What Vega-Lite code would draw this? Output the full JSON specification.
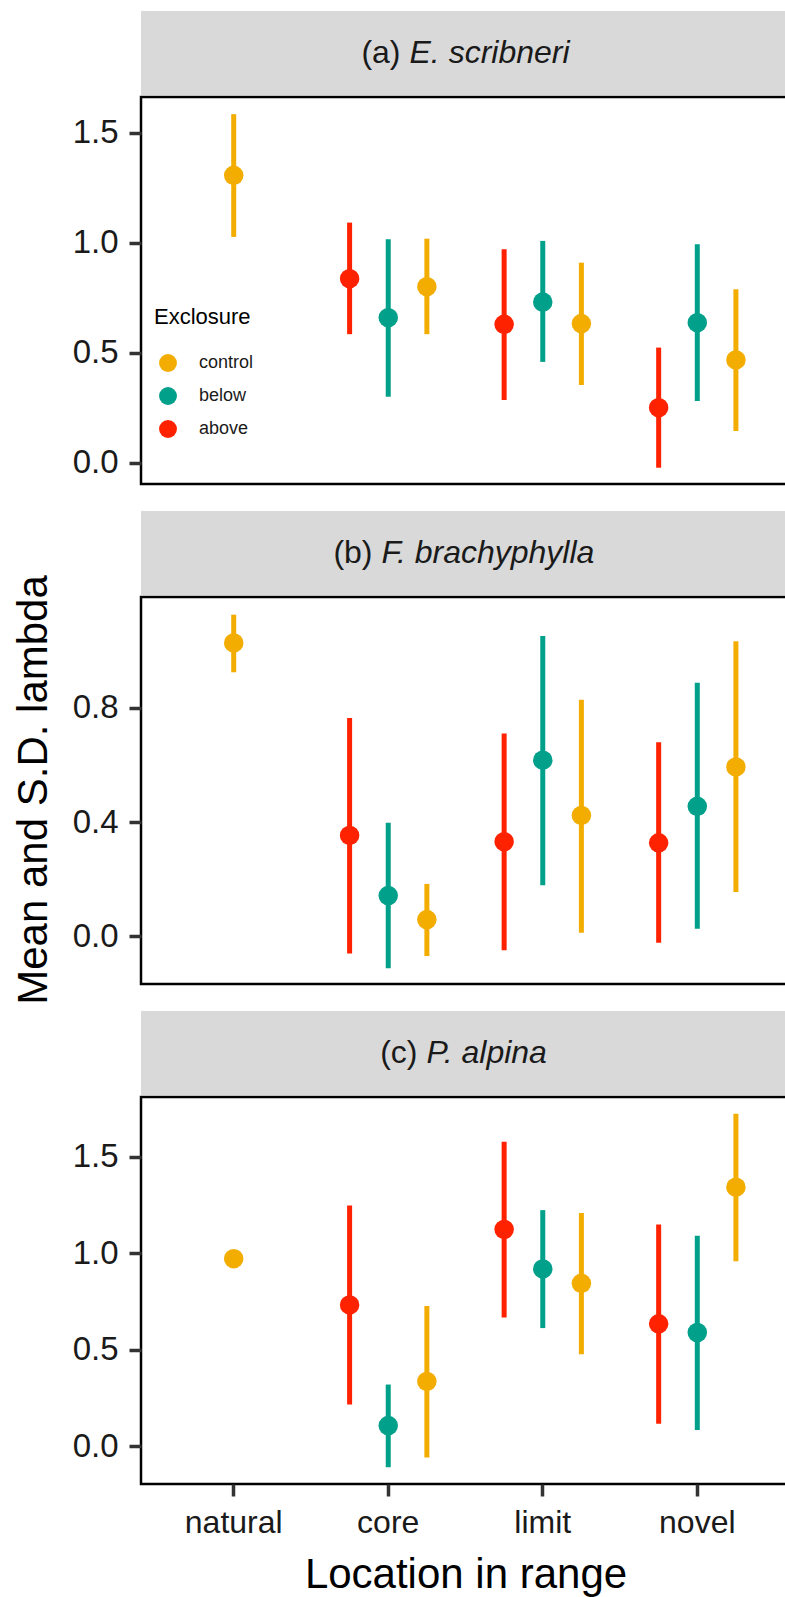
{
  "$schema": "https://vega.github.io/schema/vega-lite/v6.json",
  "padding": {"left": 13, "top": 11, "right": 0, "bottom": 0},
  "background": "white",
  "datasets": {
    "lambda": [
      {"species": "E. scribneri", "location": "natural", "exclosure": "control", "mean": 1.306, "lower": 1.026, "upper": 1.584},
      {"species": "E. scribneri", "location": "core", "exclosure": "above", "mean": 0.836, "lower": 0.584, "upper": 1.091},
      {"species": "E. scribneri", "location": "core", "exclosure": "below", "mean": 0.659, "lower": 0.300, "upper": 1.015},
      {"species": "E. scribneri", "location": "core", "exclosure": "control", "mean": 0.800, "lower": 0.584, "upper": 1.018},
      {"species": "E. scribneri", "location": "limit", "exclosure": "above", "mean": 0.629, "lower": 0.285, "upper": 0.970},
      {"species": "E. scribneri", "location": "limit", "exclosure": "below", "mean": 0.730, "lower": 0.458, "upper": 1.008},
      {"species": "E. scribneri", "location": "limit", "exclosure": "control", "mean": 0.632, "lower": 0.353, "upper": 0.909},
      {"species": "E. scribneri", "location": "novel", "exclosure": "above", "mean": 0.250, "lower": -0.023, "upper": 0.523},
      {"species": "E. scribneri", "location": "novel", "exclosure": "below", "mean": 0.636, "lower": 0.280, "upper": 0.993},
      {"species": "E. scribneri", "location": "novel", "exclosure": "control", "mean": 0.467, "lower": 0.144, "upper": 0.788},
      {"species": "F. brachyphylla", "location": "natural", "exclosure": "control", "mean": 1.028, "lower": 0.925, "upper": 1.127},
      {"species": "F. brachyphylla", "location": "core", "exclosure": "above", "mean": 0.353, "lower": -0.061, "upper": 0.765},
      {"species": "F. brachyphylla", "location": "core", "exclosure": "below", "mean": 0.142, "lower": -0.113, "upper": 0.397},
      {"species": "F. brachyphylla", "location": "core", "exclosure": "control", "mean": 0.058, "lower": -0.070, "upper": 0.183},
      {"species": "F. brachyphylla", "location": "limit", "exclosure": "above", "mean": 0.331, "lower": -0.050, "upper": 0.710},
      {"species": "F. brachyphylla", "location": "limit", "exclosure": "below", "mean": 0.617, "lower": 0.178, "upper": 1.052},
      {"species": "F. brachyphylla", "location": "limit", "exclosure": "control", "mean": 0.423, "lower": 0.012, "upper": 0.829},
      {"species": "F. brachyphylla", "location": "novel", "exclosure": "above", "mean": 0.327, "lower": -0.023, "upper": 0.680},
      {"species": "F. brachyphylla", "location": "novel", "exclosure": "below", "mean": 0.455, "lower": 0.026, "upper": 0.888},
      {"species": "F. brachyphylla", "location": "novel", "exclosure": "control", "mean": 0.593, "lower": 0.155, "upper": 1.034},
      {"species": "P. alpina", "location": "natural", "exclosure": "control", "mean": 0.972, "lower": 0.960, "upper": 0.985},
      {"species": "P. alpina", "location": "core", "exclosure": "above", "mean": 0.732, "lower": 0.215, "upper": 1.248},
      {"species": "P. alpina", "location": "core", "exclosure": "below", "mean": 0.106, "lower": -0.110, "upper": 0.319},
      {"species": "P. alpina", "location": "core", "exclosure": "control", "mean": 0.335, "lower": -0.059, "upper": 0.726},
      {"species": "P. alpina", "location": "limit", "exclosure": "above", "mean": 1.124, "lower": 0.667, "upper": 1.579},
      {"species": "P. alpina", "location": "limit", "exclosure": "below", "mean": 0.919, "lower": 0.612, "upper": 1.224},
      {"species": "P. alpina", "location": "limit", "exclosure": "control", "mean": 0.844, "lower": 0.476, "upper": 1.209},
      {"species": "P. alpina", "location": "novel", "exclosure": "above", "mean": 0.634, "lower": 0.116, "upper": 1.150},
      {"species": "P. alpina", "location": "novel", "exclosure": "below", "mean": 0.589, "lower": 0.083, "upper": 1.091},
      {"species": "P. alpina", "location": "novel", "exclosure": "control", "mean": 1.343, "lower": 0.959, "upper": 1.724}
    ]
  },
  "config": {
    "font": "Liberation Sans",
    "view": {"stroke": "#000000", "strokeWidth": 2.5},
    "axis": {"grid": false, "domain": false, "labelFont": "Liberation Sans", "labelFontSize": 32, "labelColor": "#1a1a1a", "tickColor": "#333333", "tickWidth": 3.5, "tickSize": 12, "labelPadding": 8, "titleFont": "Liberation Sans", "titleFontSize": 42, "titleFontWeight": "normal", "titleColor": "#000000"},
    "axisY": {"labelFontSize": 33, "labelPadding": 11},
    "legend": {"titleFont": "Liberation Sans", "labelFont": "Liberation Sans"}
  },
  "spacing": 15,
  "hconcat": [
    {
      "width": 36, "height": 1558,
      "view": {"stroke": null},
      "data": {"values": [{"ytitle": "Mean and S.D. lambda"}]},
      "mark": {"type": "text", "angle": 270, "align": "center", "baseline": "middle", "fontSize": 42, "color": "#000000"},
      "encoding": {"text": {"field": "ytitle"}}
    },
    {
      "spacing": 25,
      "vconcat": [
        {
          "spacing": 0,
          "vconcat": [
            {
              "width": 649, "height": 84,
              "view": {"fill": "#D9D9D9", "stroke": null},
              "data": {"values": [{"prefix": "(a)", "name": "E. scribneri"}]},
              "layer": [
                {"mark": {"type": "text", "align": "right", "baseline": "middle", "dx": -65, "fontSize": 32, "color": "#1a1a1a"}, "encoding": {"text": {"field": "prefix"}}},
                {"mark": {"type": "text", "align": "left", "baseline": "middle", "dx": -56, "fontSize": 32, "fontStyle": "italic", "color": "#1a1a1a"}, "encoding": {"text": {"field": "name"}}}
              ]
            },
            {
              "width": 649, "height": 387,
              "data": {"name": "lambda"},
              "transform": [{"filter": "datum.species == 'E. scribneri'"}],
              "encoding": {
                "x": {"field": "location", "type": "nominal", "scale": {"domain": ["natural", "core", "limit", "novel"], "paddingInner": 0, "paddingOuter": 0.1}, "axis": null},
                "color": {"field": "exclosure", "type": "nominal", "scale": {"domain": ["control", "below", "above"], "range": ["#F2AD00", "#00A08A", "#FF2200"]},
                  "legend": {"title": "Exclosure", "orient": "none", "legendX": 138, "legendY": 296, "titleFontSize": 22, "titleFontWeight": "normal", "titleColor": "#000", "labelFontSize": 18, "labelColor": "#1a1a1a", "symbolType": "circle", "symbolSize": 320, "symbolStrokeWidth": 0, "symbolOffset": 5, "rowPadding": 15, "labelOffset": 22, "titlePadding": 25}}
              },
              "layer": [
                {"transform": [{"filter": "datum.location != 'natural'"}], "mark": {"type": "rule", "strokeWidth": 5},
                 "encoding": {"xOffset": {"field": "exclosure", "type": "nominal", "scale": {"domain": ["above", "below", "control"], "paddingInner": 0, "paddingOuter": 0.5}},
                   "y": {"field": "lower", "type": "quantitative", "scale": {"domain": [-0.097, 1.662], "nice": false, "zero": false}, "axis": {"values": [0, 0.5, 1, 1.5], "format": ".1f", "title": null}}, "y2": {"field": "upper"}}},
                {"transform": [{"filter": "datum.location != 'natural'"}], "mark": {"type": "point", "filled": true, "size": 380, "opacity": 1},
                 "encoding": {"xOffset": {"field": "exclosure", "type": "nominal", "scale": {"domain": ["above", "below", "control"], "paddingInner": 0, "paddingOuter": 0.5}},
                   "y": {"field": "mean", "type": "quantitative", "scale": {"domain": [-0.097, 1.662], "nice": false, "zero": false}, "axis": {"values": [0, 0.5, 1, 1.5], "format": ".1f", "title": null}}}},
                {"transform": [{"filter": "datum.location == 'natural'"}], "mark": {"type": "rule", "strokeWidth": 5},
                 "encoding": {"y": {"field": "lower", "type": "quantitative", "scale": {"domain": [-0.097, 1.662], "nice": false, "zero": false}, "axis": {"values": [0, 0.5, 1, 1.5], "format": ".1f", "title": null}}, "y2": {"field": "upper"}}},
                {"transform": [{"filter": "datum.location == 'natural'"}], "mark": {"type": "point", "filled": true, "size": 380, "opacity": 1},
                 "encoding": {"y": {"field": "mean", "type": "quantitative", "scale": {"domain": [-0.097, 1.662], "nice": false, "zero": false}, "axis": {"values": [0, 0.5, 1, 1.5], "format": ".1f", "title": null}}}}
              ]
            }
          ]
        },
        {
          "spacing": 0,
          "vconcat": [
            {
              "width": 649, "height": 84,
              "view": {"fill": "#D9D9D9", "stroke": null},
              "data": {"values": [{"prefix": "(b)", "name": "F. brachyphylla"}]},
              "layer": [
                {"mark": {"type": "text", "align": "right", "baseline": "middle", "dx": -93, "fontSize": 32, "color": "#1a1a1a"}, "encoding": {"text": {"field": "prefix"}}},
                {"mark": {"type": "text", "align": "left", "baseline": "middle", "dx": -84, "fontSize": 32, "fontStyle": "italic", "color": "#1a1a1a"}, "encoding": {"text": {"field": "name"}}}
              ]
            },
            {
              "width": 649, "height": 387,
              "data": {"name": "lambda"},
              "transform": [{"filter": "datum.species == 'F. brachyphylla'"}],
              "encoding": {
                "x": {"field": "location", "type": "nominal", "scale": {"domain": ["natural", "core", "limit", "novel"], "paddingInner": 0, "paddingOuter": 0.1}, "axis": null},
                "color": {"field": "exclosure", "type": "nominal", "scale": {"domain": ["control", "below", "above"], "range": ["#F2AD00", "#00A08A", "#FF2200"]},
                  "legend": {"title": "Exclosure", "orient": "none", "legendX": 138, "legendY": 296, "titleFontSize": 22, "titleFontWeight": "normal", "titleColor": "#000", "labelFontSize": 18, "labelColor": "#1a1a1a", "symbolType": "circle", "symbolSize": 320, "symbolStrokeWidth": 0, "symbolOffset": 5, "rowPadding": 15, "labelOffset": 22, "titlePadding": 25}}
              },
              "layer": [
                {"transform": [{"filter": "datum.location != 'natural'"}], "mark": {"type": "rule", "strokeWidth": 5},
                 "encoding": {"xOffset": {"field": "exclosure", "type": "nominal", "scale": {"domain": ["above", "below", "control"], "paddingInner": 0, "paddingOuter": 0.5}},
                   "y": {"field": "lower", "type": "quantitative", "scale": {"domain": [-0.168, 1.189], "nice": false, "zero": false}, "axis": {"values": [0, 0.4, 0.8], "format": ".1f", "title": null}}, "y2": {"field": "upper"}}},
                {"transform": [{"filter": "datum.location != 'natural'"}], "mark": {"type": "point", "filled": true, "size": 380, "opacity": 1},
                 "encoding": {"xOffset": {"field": "exclosure", "type": "nominal", "scale": {"domain": ["above", "below", "control"], "paddingInner": 0, "paddingOuter": 0.5}},
                   "y": {"field": "mean", "type": "quantitative", "scale": {"domain": [-0.168, 1.189], "nice": false, "zero": false}, "axis": {"values": [0, 0.4, 0.8], "format": ".1f", "title": null}}}},
                {"transform": [{"filter": "datum.location == 'natural'"}], "mark": {"type": "rule", "strokeWidth": 5},
                 "encoding": {"y": {"field": "lower", "type": "quantitative", "scale": {"domain": [-0.168, 1.189], "nice": false, "zero": false}, "axis": {"values": [0, 0.4, 0.8], "format": ".1f", "title": null}}, "y2": {"field": "upper"}}},
                {"transform": [{"filter": "datum.location == 'natural'"}], "mark": {"type": "point", "filled": true, "size": 380, "opacity": 1},
                 "encoding": {"y": {"field": "mean", "type": "quantitative", "scale": {"domain": [-0.168, 1.189], "nice": false, "zero": false}, "axis": {"values": [0, 0.4, 0.8], "format": ".1f", "title": null}}}}
              ]
            }
          ]
        },
        {
          "spacing": 0,
          "vconcat": [
            {
              "width": 649, "height": 84,
              "view": {"fill": "#D9D9D9", "stroke": null},
              "data": {"values": [{"prefix": "(c)", "name": "P. alpina"}]},
              "layer": [
                {"mark": {"type": "text", "align": "right", "baseline": "middle", "dx": -48, "fontSize": 32, "color": "#1a1a1a"}, "encoding": {"text": {"field": "prefix"}}},
                {"mark": {"type": "text", "align": "left", "baseline": "middle", "dx": -39, "fontSize": 32, "fontStyle": "italic", "color": "#1a1a1a"}, "encoding": {"text": {"field": "name"}}}
              ]
            },
            {
              "width": 649, "height": 387,
              "data": {"name": "lambda"},
              "transform": [{"filter": "datum.species == 'P. alpina'"}],
              "encoding": {
                "x": {"field": "location", "type": "nominal", "scale": {"domain": ["natural", "core", "limit", "novel"], "paddingInner": 0, "paddingOuter": 0.1}, "axis": {"title": "Location in range", "labelAngle": 0, "labelPadding": 11, "titlePadding": 16}},
                "color": {"field": "exclosure", "type": "nominal", "scale": {"domain": ["control", "below", "above"], "range": ["#F2AD00", "#00A08A", "#FF2200"]},
                  "legend": {"title": "Exclosure", "orient": "none", "legendX": 138, "legendY": 296, "titleFontSize": 22, "titleFontWeight": "normal", "titleColor": "#000", "labelFontSize": 18, "labelColor": "#1a1a1a", "symbolType": "circle", "symbolSize": 320, "symbolStrokeWidth": 0, "symbolOffset": 5, "rowPadding": 15, "labelOffset": 22, "titlePadding": 25}}
              },
              "layer": [
                {"transform": [{"filter": "datum.location != 'natural'"}], "mark": {"type": "rule", "strokeWidth": 5},
                 "encoding": {"xOffset": {"field": "exclosure", "type": "nominal", "scale": {"domain": ["above", "below", "control"], "paddingInner": 0, "paddingOuter": 0.5}},
                   "y": {"field": "lower", "type": "quantitative", "scale": {"domain": [-0.197, 1.811], "nice": false, "zero": false}, "axis": {"values": [0, 0.5, 1, 1.5], "format": ".1f", "title": null}}, "y2": {"field": "upper"}}},
                {"transform": [{"filter": "datum.location != 'natural'"}], "mark": {"type": "point", "filled": true, "size": 380, "opacity": 1},
                 "encoding": {"xOffset": {"field": "exclosure", "type": "nominal", "scale": {"domain": ["above", "below", "control"], "paddingInner": 0, "paddingOuter": 0.5}},
                   "y": {"field": "mean", "type": "quantitative", "scale": {"domain": [-0.197, 1.811], "nice": false, "zero": false}, "axis": {"values": [0, 0.5, 1, 1.5], "format": ".1f", "title": null}}}},
                {"transform": [{"filter": "datum.location == 'natural'"}], "mark": {"type": "rule", "strokeWidth": 5},
                 "encoding": {"y": {"field": "lower", "type": "quantitative", "scale": {"domain": [-0.197, 1.811], "nice": false, "zero": false}, "axis": {"values": [0, 0.5, 1, 1.5], "format": ".1f", "title": null}}, "y2": {"field": "upper"}}},
                {"transform": [{"filter": "datum.location == 'natural'"}], "mark": {"type": "point", "filled": true, "size": 380, "opacity": 1},
                 "encoding": {"y": {"field": "mean", "type": "quantitative", "scale": {"domain": [-0.197, 1.811], "nice": false, "zero": false}, "axis": {"values": [0, 0.5, 1, 1.5], "format": ".1f", "title": null}}}}
              ]
            }
          ]
        }
      ]
    }
  ]
}
